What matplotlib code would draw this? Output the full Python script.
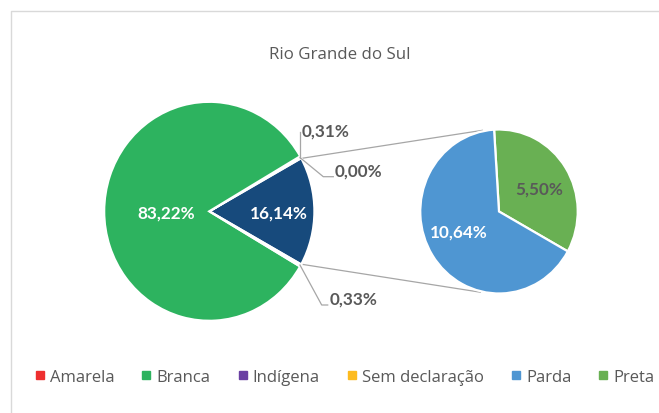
import matplotlib
matplotlib.use("Agg")
import matplotlib.pyplot as plt
import numpy as np
from matplotlib.lines import Line2D

# share of each group, Rio Grande do Sul (%)
categories = ["Amarela", "Branca", "Indígena", "Sem declaração", "Parda", "Preta"]
values = [0.31, 83.22, 0.00, 0.33, 10.64, 5.50]
colors = ["#EE2F2F", "#2DB35F", "#6A40A3", "#FDBB1F", "#4F96D2", "#69B053"]

title = "Rio Grande do Sul"

W, H = 659, 414
SX = 0.96  # horizontal squeeze of the drawing


def px(x, y):
    """pixel position -> data coords"""
    return x / SX, H - y


def fmt(v):
    return f"{v:.2f}".replace(".", ",") + "%"


amarela, branca, indigena, sem_decl, parda, preta = values
outros = parda + preta

fig = plt.figure(figsize=(W / 100, H / 100), dpi=100)
ax = fig.add_axes([0, 0, 1, 1])

gray = "#595959"
line_gray = "#A6A6A6"
wp = dict(edgecolor="white", linewidth=1.6)

# main pie: the "other" slice (Parda + Preta) faces right
main_c = px(209.3, 212.3)
main_r = 109.5
start = -outros / 100 * 360 / 2
main_vals = [outros, amarela, indigena, branca, sem_decl]
main_cols = ["#174A7C", colors[0], colors[2], colors[1], colors[3]]
ax.pie(main_vals, colors=main_cols, startangle=start, counterclock=True,
       center=main_c, radius=main_r, wedgeprops=wp, frame=True)

# secondary pie
sec_c = px(499, 212.5)
sec_r = 82
sec_start = -29.1
ax.pie([preta, parda], colors=[colors[5], colors[4]], startangle=sec_start,
       counterclock=True, center=sec_c, radius=sec_r, wedgeprops=wp, frame=True)

# pie() forces an equal aspect; undo it so one y unit is one pixel
ax.set_aspect("auto")
ax.set_xlim(0, W / SX)
ax.set_ylim(0, H)
ax.axis("off")


def on_circle(c, r, ang):
    a = np.deg2rad(ang)
    return c[0] + r * np.cos(a), c[1] + r * np.sin(a)


# connector lines between the pies
top_main = on_circle(main_c, main_r - 0.8, -start)
bot_main = on_circle(main_c, main_r - 0.8, start)
top_sec = on_circle(sec_c, sec_r + 1, 102)
bot_sec = on_circle(sec_c, sec_r + 1, -103.5)
for a, b in [(top_main, top_sec), (bot_main, bot_sec)]:
    ax.plot([a[0], b[0]], [a[1], b[1]], color=line_gray, lw=0.9, zorder=0)

lab = dict(family="Lato", fontsize=12.3, fontweight="bold")

# labels inside the slices
ax.text(*px(166.5, 213.5), fmt(branca), color="white", ha="center", va="center", **lab)
ax.text(*px(279, 213.5), fmt(outros), color="white", ha="center", va="center", **lab)
ax.text(*px(459, 233), fmt(parda), color="white", ha="center", va="center", **lab)
ax.text(*px(539, 190), fmt(preta), color=gray, ha="center", va="center", **lab)

# small slices with leader lines
am_pt = on_circle(main_c, main_r - 0.8, -start + amarela / 100 * 180)
sd_pt = on_circle(main_c, main_r - 0.8, start - sem_decl / 100 * 180)
ax.plot([am_pt[0], am_pt[0]], [am_pt[1], px(0, 133)[1]], color=line_gray, lw=0.9)
ax.text(am_pt[0] + 2 / SX, px(0, 131.5)[1], fmt(amarela), color=gray,
        ha="left", va="center", **lab)

p1, p2 = px(323.3, 177.7), px(333.3, 177.7)
ax.plot([am_pt[0], p1[0], p2[0]], [am_pt[1], p1[1], p2[1]], color=line_gray, lw=0.9)
ax.text(*px(335, 171.5), fmt(indigena), color=gray, ha="left", va="center", **lab)

p1, p2 = px(321.7, 306), px(327.7, 306)
ax.plot([sd_pt[0], p1[0], p2[0]], [sd_pt[1], p1[1], p2[1]], color=line_gray, lw=0.9)
ax.text(*px(329.3, 300), fmt(sem_decl), color=gray, ha="left", va="center", **lab)

# title
ax.text(*px(340, 55), title, color=gray, ha="center", va="center",
        family="Open Sans", fontsize=12.2)

# chart frame
fx0, fy0 = px(10.5, 11.5)
fx1, fy1 = px(W + 5, H + 5)
ax.plot([fx0, fx0, fx1], [fy1, fy0, fy0], color="#D9D9D9", lw=1, clip_on=False)

# legend
handles = [Line2D([], [], marker="s", linestyle="none", color=c, markersize=5.5)
           for c in colors]
fig.legend(handles, categories, loc="center", bbox_to_anchor=(345 / W, 1 - 378 / H),
           ncol=6, frameon=False, handlelength=0.5, handletextpad=0.35,
           columnspacing=1.68, prop=dict(family="Open Sans", size=12),
           labelcolor=gray)

fig.savefig("out.png", dpi=100)
